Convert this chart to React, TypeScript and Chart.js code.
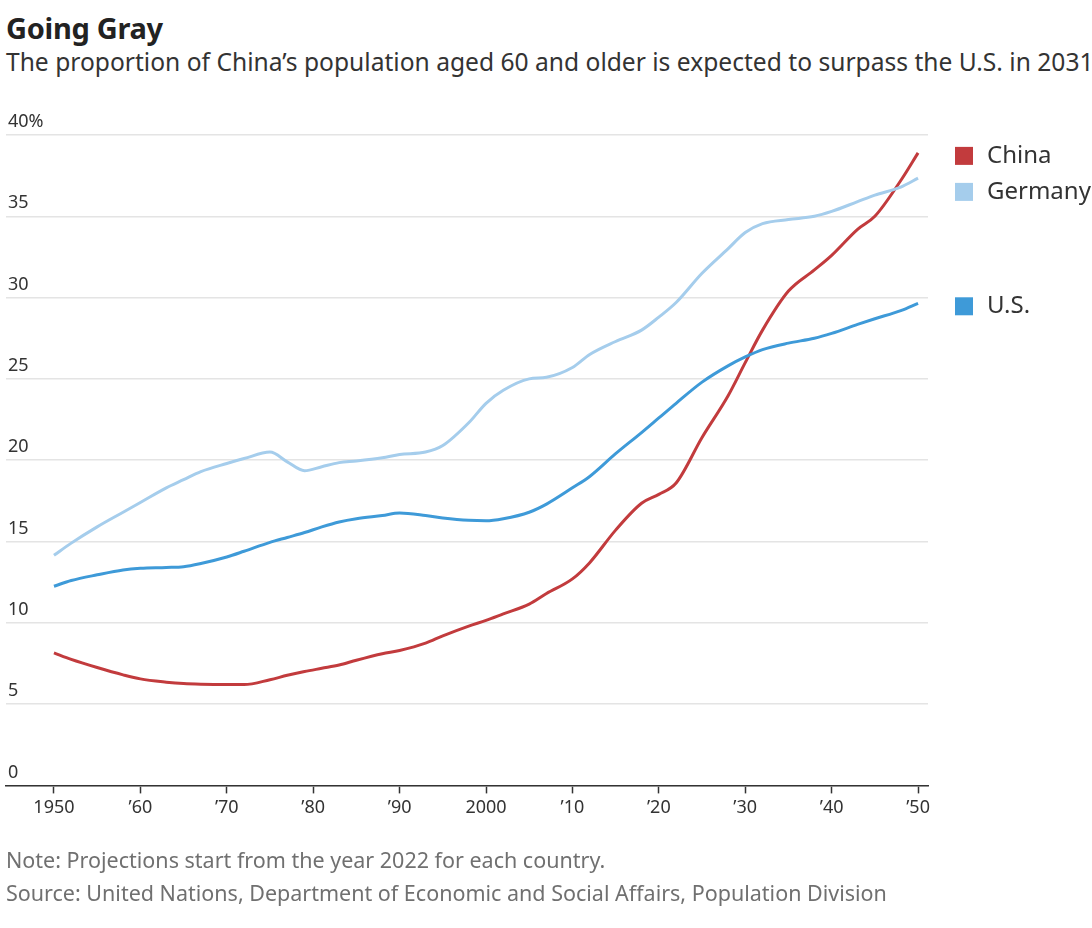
import React, { useEffect, useRef } from "react";
import { Chart, registerables } from "chart.js";

Chart.register(...registerables);

const YEARS = [1950, 1952, 1955, 1958, 1960, 1963, 1965, 1967, 1970, 1972, 1975, 1977, 1979, 1981, 1983, 1985, 1988, 1990, 1993, 1995, 1998, 2000, 2002, 2005, 2007, 2010, 2012, 2015, 2018, 2020, 2022, 2025, 2028, 2030, 2032, 2035, 2038, 2040, 2043, 2045, 2048, 2050];

const CHINA = [8.15, 7.75, 7.25, 6.8, 6.55, 6.35, 6.26, 6.22, 6.2, 6.2, 6.5, 6.77, 7.0, 7.2, 7.4, 7.7, 8.1, 8.3, 8.75, 9.2, 9.8, 10.15, 10.55, 11.15, 11.8, 12.7, 13.7, 15.7, 17.35, 17.9, 18.6, 21.4, 23.95, 26.0, 28.0, 30.4, 31.7, 32.6, 34.2, 35.0, 37.2, 38.9];

const GERMANY = [14.15, 14.9, 15.9, 16.8, 17.4, 18.3, 18.8, 19.3, 19.8, 20.1, 20.5, 19.9, 19.35, 19.6, 19.85, 19.95, 20.15, 20.35, 20.5, 20.9, 22.3, 23.5, 24.3, 25.0, 25.1, 25.7, 26.5, 27.3, 28.0, 28.8, 29.7, 31.5, 33.0, 34.0, 34.55, 34.8, 35.0, 35.3, 35.9, 36.3, 36.8, 37.35];

const US = [12.25, 12.6, 12.95, 13.25, 13.35, 13.4, 13.45, 13.65, 14.05, 14.4, 14.95, 15.25, 15.55, 15.9, 16.2, 16.4, 16.6, 16.75, 16.6, 16.45, 16.3, 16.27, 16.4, 16.8, 17.3, 18.3, 19.0, 20.4, 21.7, 22.6, 23.5, 24.8, 25.8, 26.35, 26.8, 27.2, 27.5, 27.8, 28.35, 28.7, 29.2, 29.65];

const SERIES_NAMES = ["China", "Germany", "U.S."];
const SERIES_COLORS = ["#c23b3d", "#a5cdec", "#3e9ad8"];

const X_TICKS = [1950, 1960, 1970, 1980, 1990, 2000, 2010, 2020, 2030, 2040, 2050];
const X_TICK_LABELS = ["1950", "\u201960", "\u201970", "\u201980", "\u201990", "2000", "\u201910", "\u201920", "\u201930", "\u201940", "\u201950"];
const Y_TICK_LABELS: Record<number, string> = { 0: "0", 5: "5", 10: "10", 15: "15", 20: "20", 25: "25", 30: "30", 35: "35", 40: "40%" };

const FONT = "'Noto Sans', sans-serif";

const endLabels = {
  id: "endLabels",
  afterDatasetsDraw(chart: any) {
    const { ctx, chartArea, scales } = chart;
    const items = chart.data.datasets.map((ds: any) => {
      const last = ds.data[ds.data.length - 1];
      return { name: ds.label, color: ds.borderColor, y: scales.y.getPixelForValue(last.y) };
    });
    const sorted = [...items].sort((a, b) => a.y - b.y);
    for (let i = 1; i < sorted.length; i++) {
      if (sorted[i].y < sorted[i - 1].y + 36) sorted[i].y = sorted[i - 1].y + 36;
    }
    ctx.save();
    ctx.font = `24px ${FONT}`;
    ctx.textBaseline = "middle";
    ctx.textAlign = "left";
    sorted.forEach((it: any) => {
      const y = it.y + 3;
      ctx.fillStyle = it.color;
      ctx.fillRect(chartArea.right + 27, y - 9, 18, 18);
      ctx.fillStyle = "#333";
      ctx.fillText(it.name, chartArea.right + 59, y);
    });
    ctx.restore();
  },
};

export default function App() {
  const ref = useRef<HTMLCanvasElement>(null);
  useEffect(() => {
    if (!ref.current) return;
    const mk = (vals: number[], i: number) => ({
      label: SERIES_NAMES[i],
      data: YEARS.map((x, k) => ({ x, y: vals[k] })),
      borderColor: SERIES_COLORS[i],
      borderWidth: 3,
      pointRadius: 0,
      cubicInterpolationMode: "monotone" as const,
      fill: false,
    });
    const chart = new Chart(ref.current, {
      type: "line",
      data: { datasets: [mk(GERMANY, 1), mk(US, 2), mk(CHINA, 0)] as any },
      options: {
        animation: false,
        responsive: false,
        maintainAspectRatio: false,
        layout: { padding: { left: 2, right: 164, top: 135, bottom: 105 } },
        plugins: { legend: { display: false }, tooltip: { enabled: false }, title: { display: false } },
        scales: {
          x: {
            type: "linear",
            min: 1944.45,
            max: 2051.15,
            afterBuildTicks: (scale: any) => {
              scale.ticks = X_TICKS.map((v) => ({ value: v }));
            },
            border: { display: true, color: "#333", width: 1.5 },
            grid: { drawOnChartArea: false, drawTicks: true, tickLength: 8, tickColor: "#333", tickWidth: 1.5 },
            ticks: {
              color: "#333",
              font: { family: FONT, size: 18 },
              padding: 4,
              maxRotation: 0,
              autoSkip: false,
              callback: (v: any) => {
                const idx = X_TICKS.indexOf(Number(v));
                return idx >= 0 ? X_TICK_LABELS[idx] : "";
              },
            },
          },
          y: {
            min: 0,
            max: 40,
            border: { display: false },
            grid: { color: "#e4e4e4", lineWidth: 1.5, drawTicks: false },
            ticks: {
              stepSize: 5,
              mirror: true,
              padding: 2,
              labelOffset: -13,
              color: "#333",
              font: { family: FONT, size: 18 },
              callback: (v: any) => Y_TICK_LABELS[Number(v)] ?? String(v),
            },
          },
        },
      },
      plugins: [endLabels],
    });
    return () => chart.destroy();
  }, []);

  return (
    <div style={{ position: "absolute", left: 0, top: 0, width: 1092, height: 928, background: "#fff", overflow: "hidden", fontFamily: FONT }}>
      <div style={{ position: "absolute", left: 6, top: 13, fontSize: 29, lineHeight: "29px", fontWeight: 700, color: "#222", letterSpacing: -0.3, whiteSpace: "nowrap" }}>Going Gray</div>
      <div style={{ position: "absolute", left: 6, top: 50, fontSize: 24.6, lineHeight: "24px", color: "#333", whiteSpace: "nowrap" }}>
        The proportion of China’s population aged 60 and older is expected to surpass the U.S. in 2031
      </div>
      <canvas ref={ref} width={1092} height={928} style={{ position: "absolute", left: 0, top: 0, width: 1092, height: 928 }} />
      <div style={{ position: "absolute", left: 6, top: 849, fontSize: 21.5, lineHeight: "22px", color: "#707070", whiteSpace: "nowrap" }}>
        Note: Projections start from the year 2022 for each country.
      </div>
      <div style={{ position: "absolute", left: 6, top: 882, fontSize: 21.5, lineHeight: "22px", color: "#707070", whiteSpace: "nowrap" }}>
        Source: United Nations, Department of Economic and Social Affairs, Population Division
      </div>
    </div>
  );
}
